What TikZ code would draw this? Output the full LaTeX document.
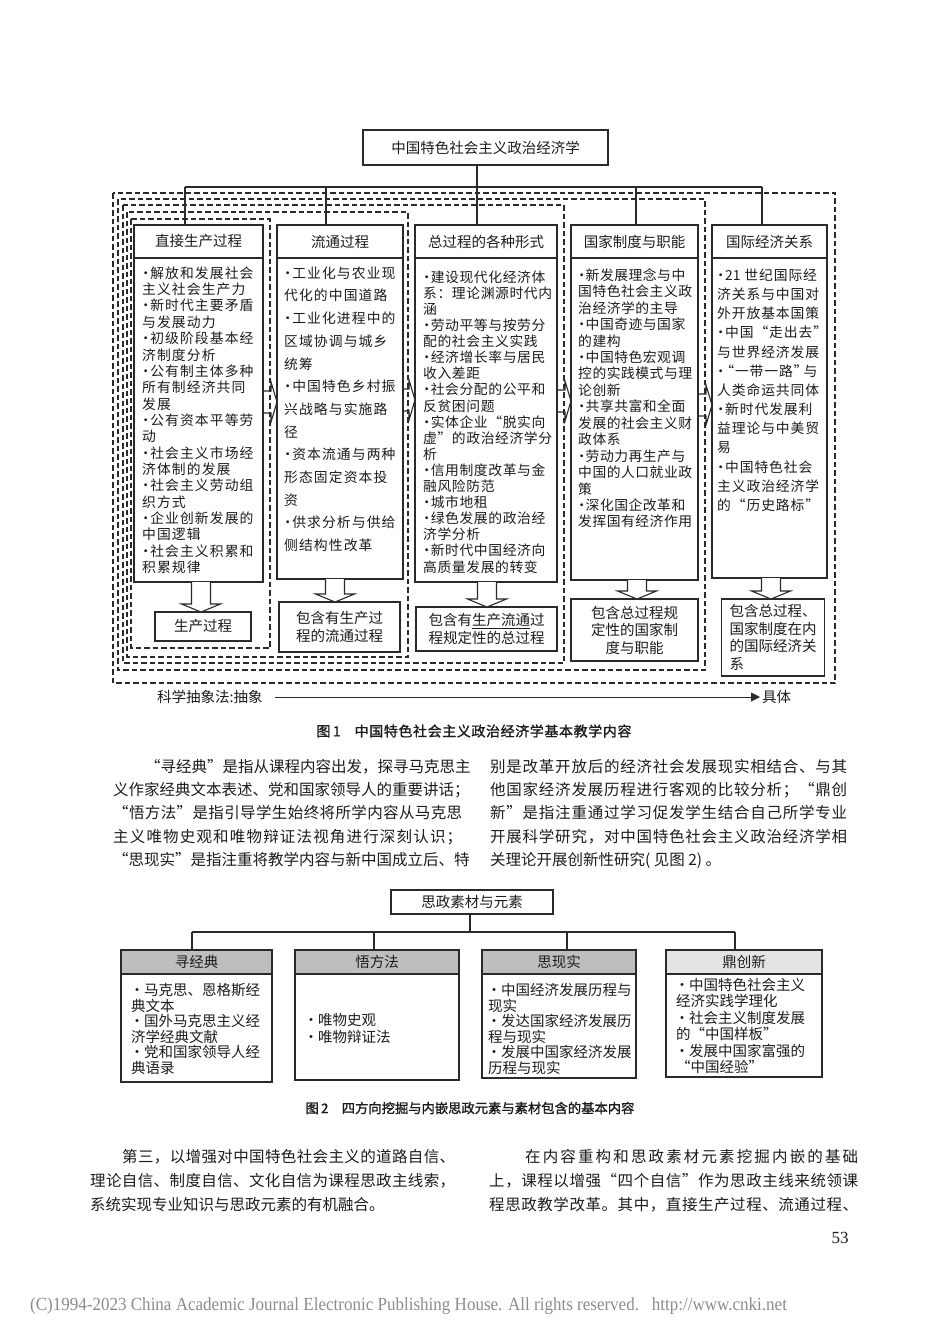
\documentclass[tikz,border=0pt]{standalone}
\usepackage{fontspec}
\setmainfont{Noto Sans CJK SC}
\newfontfamily\cjkb[FakeBold=1.3]{Noto Sans CJK SC}
\newfontfamily\lser{Liberation Serif}
\usetikzlibrary{calc,arrows.meta}
\definecolor{ink}{HTML}{1C1C1C}
\definecolor{lne}{HTML}{2A2A2A}
\definecolor{hdr}{HTML}{BEBEBE}
\definecolor{hdrl}{HTML}{E4E4E4}
\definecolor{foot}{HTML}{8C8C8C}

\ExplSyntaxOn
\dim_new:N \l_my_ls_dim
\cs_new_protected:Npn \my_spaced:n #1 { \tl_map_inline:nn {#1} { ##1 \kern \l_my_ls_dim } \unkern }
\cs_generate_variant:Nn \my_spaced:n {o}
\NewDocumentCommand\spaced{O{1pt} m}{ \dim_set:Nn \l_my_ls_dim {#1} \my_spaced:o {#2} }
\NewDocumentCommand\jline{m m}{ \hbox to #1 { \tl_map_inline:nn {#2} { ##1 \hfil } \unskip } }
\ExplSyntaxOff

\newcommand\bu{\makebox[7pt]{·}}
\newcommand\bx{\makebox[12pt]{·}\kern1pt}
\newcommand\oq{\makebox[9pt][r]{“}}
\newcommand\cq{\makebox[9pt][l]{”}}
\newcommand\darr[3]{\draw[blk] (#1-9.5,#2) -- (#1-9.5,#3-8) -- (#1-19.5,#3-8) -- (#1,#3) -- (#1+19.5,#3-8) -- (#1+9.5,#3-8) -- (#1+9.5,#2);}
\newcommand\rarr[3]{\draw[blk,fill=none] (#1,#3-11) -- (#2-6,#3-11) -- (#2-6,#3-20) -- (#2,#3) -- (#2-6,#3+20) -- (#2-6,#3+11) -- (#1,#3+11);}

\tikzset{
  box/.style={draw=lne, line width=1.2pt, fill=white, inner sep=0pt},
  dbox/.style={draw=lne, line width=1.3pt, dash pattern=on 5.5pt off 3pt},
  ln/.style={draw=lne, line width=1.1pt},
  blk/.style={draw=lne, line width=1.1pt, fill=white, line join=miter},
  ctext/.style={font=\fontsize{13.8}{16}\selectfont, text=ink, inner sep=0pt, anchor=west},
  htext/.style={font=\fontsize{14.5}{16}\selectfont, text=ink},
  rtext/.style={font=\fontsize{14.5}{17.5}\selectfont, text=ink, align=center, inner sep=0pt},
  ftext/.style={font=\fontsize{14.5}{16}\selectfont, text=ink, inner sep=0pt, anchor=west},
  ptext/.style={font=\fontsize{15.5}{16}\selectfont, text=ink, inner sep=0pt, anchor=west},
  figcap/.style={font=\cjkb\fontsize{13.3}{14}\selectfont, text=ink, inner sep=0pt},
}

\begin{document}
\begin{tikzpicture}[x=1pt,y=-1pt]
\useasboundingbox (0,0) rectangle (950,1344);
\fill[white] (0,0) rectangle (950,1344);

% ================= Figure 1 =================
\node[box, htext, minimum width=245, minimum height=35] (t1) at (485.5,147.5) {中国特色社会主义政治经济学};

\draw[dbox] (113,193) rectangle (835,683);
\draw[dbox] (118,199) rectangle (705,670);
\draw[dbox] (123,205) rectangle (564,663);
\draw[dbox] (127,212) rectangle (408,657);
\draw[dbox] (131,219) rectangle (270,648);

% column headers and bodies
\node[box, htext, minimum width=129, minimum height=33] (c1h) at (198.5,241.5) {直接生产过程};
\node[box, minimum width=129, minimum height=324] (c1b) at (198.5,420) {};
\node[box, htext, minimum width=126, minimum height=33] (c2h) at (340,241.5) {流通过程};
\node[box, minimum width=126, minimum height=321] (c2b) at (340,418.5) {};
\node[box, htext, minimum width=142, minimum height=33] (c3h) at (486,241.5) {总过程的各种形式};
\node[box, minimum width=142, minimum height=324] (c3b) at (486,420) {};
\node[box, htext, minimum width=127, minimum height=33] (c4h) at (634.5,241.5) {国家制度与职能};
\node[box, minimum width=127, minimum height=322] (c4b) at (634.5,419) {};
\node[box, htext, minimum width=115, minimum height=33] (c5h) at (769.5,241.5) {国际经济关系};
\node[box, minimum width=115, minimum height=320] (c5b) at (769.5,418) {};

% tree
\coordinate (s0) at (477,187);
\coordinate (h1) at (185,187);
\coordinate (h2) at (326,187);
\coordinate (h3) at (477,187);
\coordinate (h4) at (636,187);
\coordinate (h5) at (762,187);
\draw[ln] (h1) -- (h5);
\draw[ln] (t1.south -| s0) -- (s0);
\draw[ln] (h1) -- (h1 |- c1h.north);
\draw[ln] (h2) -- (h2 |- c2h.north);
\draw[ln] (h3) -- (h3 |- c3h.north);
\draw[ln] (h4) -- (h4 |- c4h.north);
\draw[ln] (h5) -- (h5 |- c5h.north);

% column texts
\foreach \t [count=\i from 0] in {\bu 解放和发展社会,主义社会生产力,\bu 新时代主要矛盾,与发展动力,\bu 初级阶段基本经,济制度分析,\bu 公有制主体多种,所有制经济共同,发展,\bu 公有资本平等劳,动,\bu 社会主义市场经,济体制的发展,\bu 社会主义劳动组,织方式,\bu 企业创新发展的,中国逻辑,\bu 社会主义积累和,积累规律}
  \node[ctext] (c1t\i) at (142,273+\i*16.35) {\spaced[1.1pt]{\t}};
\foreach \t [count=\i from 0] in {\bu 工业化与农业现,代化的中国道路,\bu 工业化进程中的,区域协调与城乡,统筹,\bu 中国特色乡村振,兴战略与实施路,径,\bu 资本流通与两种,形态固定资本投,资,\bu 供求分析与供给,侧结构性改革}
  \node[ctext] (c2t\i) at (284,273+\i*22.7) {\spaced[1.1pt]{\t}};
\foreach \t [count=\i from 0] in {\bu 建设现代化经济体,系：理论渊源时代内,涵,\bu 劳动平等与按劳分,配的社会主义实践,\bu 经济增长率与居民,收入差距,\bu 社会分配的公平和,反贫困问题,\bu 实体企业“脱实向,虚”的政治经济学分,析,\bu 信用制度改革与金,融风险防范,\bu 城市地租,\bu 绿色发展的政治经,济学分析,\bu 新时代中国经济向,高质量发展的转变}
  \node[ctext] (c3t\i) at (423,277+\i*16.1) {\spaced[0.6pt]{\t}};
\foreach \t [count=\i from 0] in {\bu 新发展理念与中,国特色社会主义政,治经济学的主导,\bu 中国奇迹与国家,的建构,\bu 中国特色宏观调,控的实践模式与理,论创新,\bu 共享共富和全面,发展的社会主义财,政体系,\bu 劳动力再生产与,中国的人口就业政,策,\bu 深化国企改革和,发挥国有经济作用}
  \node[ctext] (c4t\i) at (578,275+\i*16.45) {\spaced[0.5pt]{\t}};
\foreach \t [count=\i from 0] in {\bu {21\ }世纪国际经,济关系与中国对,外开放基本国策,\bu 中国“走出去”,与世界经济发展,\bu \oq 一带一路\cq 与,人类命运共同体,\bu 新时代发展利,益理论与中美贸,易,\bu 中国特色社会,主义政治经济学,的“历史路标”}
  \node[ctext] (c5t\i) at (717,275+\i*19.2) {\spaced[0.9pt]{\t}};

% arrows between columns
\rarr{263}{277}{402}
\rarr{403}{415}{400}
\rarr{557}{571}{401}
\rarr{698}{712}{405}

% result boxes
\node[box, rtext, minimum width=96, minimum height=29] (r1) at (203,626.5) {生产过程};
\node[box, rtext, minimum width=121, minimum height=50] (r2) at (339.5,627) {包含有生产过\\程的流通过程};
\node[box, rtext, minimum width=141, minimum height=44] (r3) at (486.5,629) {包含有\underline{生产流通}过\\程规定性的总过程};
\node[box, rtext, minimum width=127, minimum height=62] (r4) at (634.5,630) {包含总过程规\\定性的国家制\\度与职能};
\node[box, rtext, align=left, minimum width=103, minimum height=77] (r5) at (773,637.5) {包含总过程、\\国家制度在内\\的国际经济关\\系};

\darr{201}{582}{612}
\darr{335}{579}{602}
\darr{487}{582}{607}
\darr{637}{580}{599}
\darr{771}{578}{599}

% abstraction arrow
\node[htext, anchor=west, inner sep=0pt] (ab1) at (157,697) {科学抽象法:抽象};
\node[htext, anchor=west, inner sep=0pt] (ab2) at (762,697) {具体};
\draw[draw=lne, line width=1pt, -{Triangle[length=9pt,width=9pt]}] ($(ab1.east)+(12,0)$) -- ($(ab2.west)+(-2,0)$);

\node[figcap, font=\cjkb\fontsize{14}{14}\selectfont] (cap1) at (474,731) {图\,1\quad \spaced[0.6pt]{中国特色社会主义政治经济学基本教学内容}};

% ================= Paragraphs (upper) =================
\node[ptext] (pl1) at (145,767) {\jline{317pt}{“寻经典”是指从课程内容出发，探寻马克思主}};
\node[ptext] (pl2) at (113,790) {\jline{349pt}{义作家经典文本表述、党和国家领导人的重要讲话；}};
\node[ptext] (pl3) at (113,813) {\jline{349pt}{“悟方法”是指引导学生始终将所学内容从马克思}};
\node[ptext] (pl4) at (113,837) {\jline{349pt}{主义唯物史观和唯物辩证法视角进行深刻认识；}};
\node[ptext] (pl5) at (113,860) {\jline{349pt}{“思现实”是指注重将教学内容与新中国成立后、特}};
\node[ptext] (pr1) at (490,767) {\jline{357pt}{别是改革开放后的经济社会发展现实相结合、与其}};
\node[ptext] (pr2) at (490,790) {\jline{357pt}{他国家经济发展历程进行客观的比较分析；“鼎创}};
\node[ptext] (pr3) at (490,813) {\jline{357pt}{新”是指注重通过学习促发学生结合自己所学专业}};
\node[ptext] (pr4) at (490,837) {\jline{357pt}{开展科学研究，对中国特色社会主义政治经济学相}};
\node[ptext] (pr5) at (490,860) {关理论开展创新性研究( 见图 2) 。};

% ================= Figure 2 =================
\node[box, htext, minimum width=162, minimum height=24] (f0) at (472,902) {思政素材与元素};
\coordinate (g0) at (470,932);
\coordinate (g1) at (192,932);
\coordinate (g2) at (374,932);
\coordinate (g3) at (567,932);
\coordinate (g4) at (735,932);
\draw[ln] (g1) -- (g4);
\draw[ln] (f0.south -| g0) -- (g0);

\node[box, fill=hdr, htext, minimum width=151, minimum height=24] (b1h) at (196.5,962) {寻经典};
\node[box, minimum width=151, minimum height=108] (b1b) at (196.5,1028) {};
\node[box, fill=hdr, htext, minimum width=164, minimum height=24] (b2h) at (377,962) {悟方法};
\node[box, minimum width=164, minimum height=106] (b2b) at (377,1027) {};
\node[box, fill=hdr, htext, minimum width=154, minimum height=24] (b3h) at (559,962) {思现实};
\node[box, minimum width=154, minimum height=104] (b3b) at (559,1026) {};
\node[box, fill=hdrl, htext, minimum width=156, minimum height=24] (b4h) at (744,962) {鼎创新};
\node[box, minimum width=156, minimum height=103] (b4b) at (744,1025.5) {};

\draw[ln] (g1) -- (g1 |- b1h.north);
\draw[ln] (g2) -- (g2 |- b2h.north);
\draw[ln] (g3) -- (g3 |- b3h.north);
\draw[ln] (g4) -- (g4 |- b4h.north);

\foreach \t [count=\i from 0] in {\bx 马克思、恩格斯经,典文本,\bx 国外马克思主义经,济学经典文献,\bx 党和国家领导人经,典语录}
  \node[ftext] (b1t\i) at (131,990+\i*15.6) {\t};
\foreach \t [count=\i from 0] in {\bx 唯物史观,\bx 唯物辩证法}
  \node[ftext] (b2t\i) at (305,1020+\i*17) {\t};
\foreach \t [count=\i from 0] in {\bx 中国经济发展历程与,现实,\bx 发达国家经济发展历,程与现实,\bx 发展中国家经济发展,历程与现实}
  \node[ftext] (b3t\i) at (488,990+\i*15.6) {\t};
\foreach \t [count=\i from 0] in {\bx 中国特色社会主义,经济实践学理化,\bx 社会主义制度发展,的“中国样板”,\bx 发展中国家富强的,“中国经验”}
  \node[ftext] (b4t\i) at (676,985+\i*16.4) {\t};

\node[figcap] (cap2) at (470,1108) {图\,2\quad 四方向挖掘与内嵌思政元素与素材包含的基本内容};

% ================= Paragraphs (lower) =================
\node[ptext] (ql1) at (122,1157) {\jline{333pt}{第三，以增强对中国特色社会主义的道路自信、}};
\node[ptext] (ql2) at (90,1181) {\jline{365pt}{理论自信、制度自信、文化自信为课程思政主线索，}};
\node[ptext] (ql3) at (90,1205) {系统实现专业知识与思政元素的有机融合。};
\node[ptext] (qr1) at (525,1157) {\jline{333pt}{在内容重构和思政素材元素挖掘内嵌的基础}};
\node[ptext] (qr2) at (489,1181) {\jline{369pt}{上，课程以增强“四个自信”作为思政主线来统领课}};
\node[ptext] (qr3) at (489,1205) {\jline{369pt}{程思政教学改革。其中，直接生产过程、流通过程、}};

\node[font=\lser\fontsize{17}{17}\selectfont, text=ink, inner sep=0pt] (pg) at (840,1238) {53};
\node[font=\lser\fontsize{18.5}{18.5}\selectfont, text=foot, inner sep=0pt, anchor=west] (ft) at (30,1306) {\scalebox{0.92}[1]{(C)1994-2023 China Academic Journal Electronic Publishing House. All rights reserved.\hspace{14pt}http://www.cnki.net}};
\end{tikzpicture}
\end{document}
